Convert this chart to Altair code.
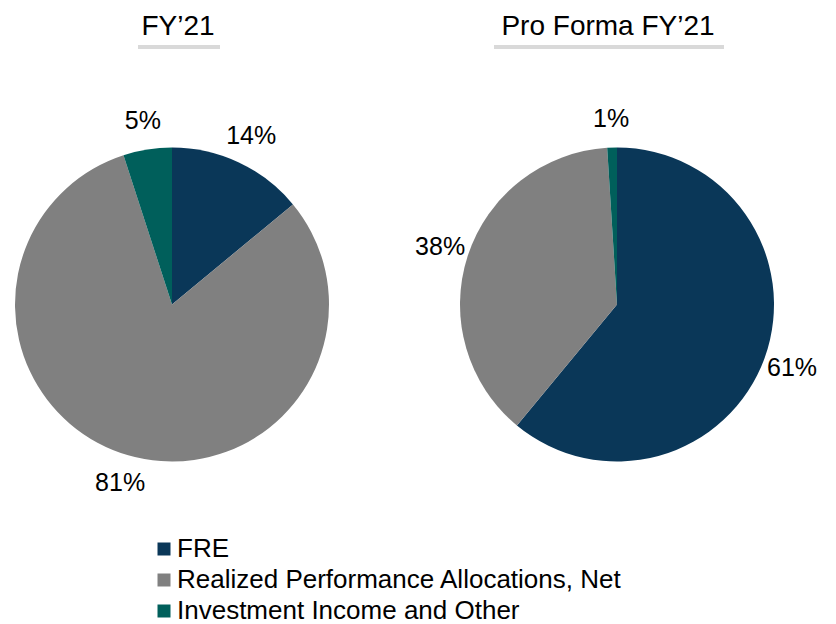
import altair as alt
import pandas as pd

categories = ["FRE", "Realized Performance Allocations, Net", "Investment Income and Other"]
fy21_values = [14, 81, 5]
pro_forma_values = [61, 38, 1]
panel_titles = ["FY\u201921", "Pro Forma FY\u201921"]
colors = ["#0A3758", "#808080", "#005F5B"]

FONT = "Liberation Sans"
W, H = 318, 581


def panel(values, title, title_x, line_x0, line_x1):
    df = pd.DataFrame({
        "category": categories,
        "value": values,
        "order": list(range(len(categories))),
        "label": [f"{v}%" for v in values],
    })
    base = alt.Chart(df).encode(
        theta=alt.Theta("value:Q", stack=True),
        order=alt.Order("order:Q"),
    )
    arcs = base.mark_arc(outerRadius=157).encode(
        color=alt.Color(
            "category:N",
            scale=alt.Scale(domain=categories, range=colors),
            sort=categories,
            legend=alt.Legend(
                title=None,
                orient="none",
                legendX=138,
                legendY=522,
                direction="vertical",
                symbolType="square",
                symbolSize=169,
                symbolStrokeWidth=0,
                labelFont=FONT,
                labelFontSize=26,
                labelColor="#000000",
                labelLimit=600,
                labelOffset=0,
                rowPadding=5,
                padding=0,
            ),
        )
    )
    labels = base.mark_text(radius=186, fontSize=25, font=FONT, color="#000000").encode(
        text="label:N"
    )
    tdf = pd.DataFrame({"t": [title]})
    ttext = alt.Chart(tdf).mark_text(
        fontSize=28, font=FONT, color="#000000", baseline="alphabetic", align="center"
    ).encode(text="t:N", x=alt.value(title_x), y=alt.value(21))
    tline = alt.Chart(tdf).mark_rule(color="#D9D9D9", strokeWidth=4).encode(
        x=alt.value(line_x0), x2=alt.value(line_x1), y=alt.value(33)
    )
    return alt.layer(arcs, labels, tline, ttext).properties(width=W, height=H)


left = panel(fy21_values, panel_titles[0], 165, 125, 207)
right = panel(pro_forma_values, panel_titles[1], 150, 36, 266)

chart = (
    alt.hconcat(left, right, spacing=127, bounds="flush")
    .configure(background="#FFFFFF")
    .configure_view(stroke=None, strokeWidth=0)
)

chart.save("out.html", embed_options={"renderer": "svg", "actions": False})
